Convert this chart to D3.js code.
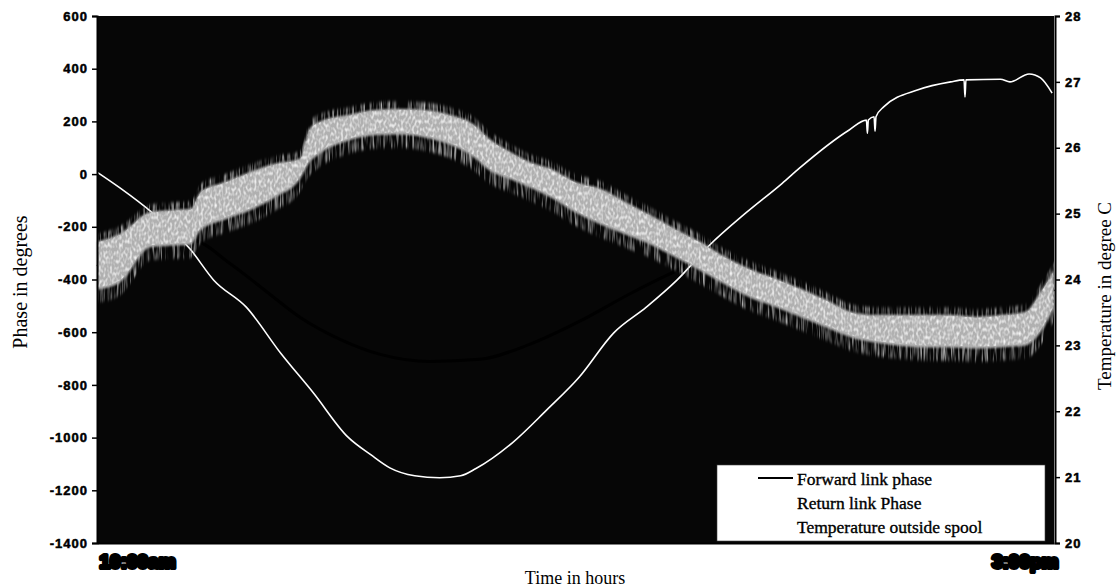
<!DOCTYPE html>
<html>
<head>
<meta charset="utf-8">
<script src="https://cdn.jsdelivr.net/npm/d3@7"></script>
<style>
  body { margin: 0; background: #fff; }
  svg { display: block; }
</style>
</head>
<body>
<div id="chart"></div>
<script>
// elapsed time in hours, from start of record
const timeTicks = [0, 5];
const timeLabels = ['10:00am', '3:00pm'];
const phaseTicks = [600, 400, 200, 0, -200, -400, -600, -800, -1000, -1200, -1400];
const tempTicks = [28, 27, 26, 25, 24, 23, 22, 21, 20];

// Temperature outside spool (deg C)
const tempTime = [0, 0.12, 0.29, 0.49, 0.61, 0.78, 0.96, 1.13, 1.31, 1.43, 1.53, 1.66, 1.79, 1.90, 1.98,
  2.17, 2.35, 2.52, 2.70, 2.87, 3.03, 3.20, 3.39, 3.58, 3.67, 3.93, 4.02, 4.025, 4.03, 4.06, 4.065, 4.07,
  4.11, 4.29, 4.46, 4.53, 4.535, 4.54, 4.72, 4.77, 4.87, 4.93, 4.99];
const tempValue = [25.63, 25.39, 25.01, 24.45, 23.99, 23.58, 22.88, 22.28, 21.61, 21.34, 21.14, 21.02, 20.99, 21.02, 21.13,
  21.52, 22.02, 22.52, 23.19, 23.58, 23.99, 24.52, 25.01, 25.46, 25.69, 26.27, 26.42, 26.22, 26.42, 26.47, 26.25, 26.47,
  26.62, 26.88, 27.00, 27.03, 26.77, 27.03, 27.04, 27.00, 27.12, 27.06, 26.83];

// Return link phase, read as the upper and lower edge of the noisy trace (degrees)
const returnTime = [0, 0.12, 0.28, 0.41, 0.49, 0.54, 0.67, 0.80, 0.93, 1.06, 1.11, 1.16, 1.32, 1.45, 1.58, 1.71,
  1.84, 1.97, 2.05, 2.16, 2.26, 2.37, 2.50, 2.63, 2.76, 2.89, 3.02, 3.15, 3.28, 3.41, 3.55, 3.68, 3.81, 3.94,
  4.07, 4.20, 4.33, 4.46, 4.59, 4.72, 4.85, 4.93, 5.0];
const returnUpper = [-250, -220, -137, -129, -125, -61, -23, 15, 46, 65, 178, 205, 232, 250, 254, 250,
  232, 194, 140, 91, 53, 27, -23, -49, -99, -148, -201, -250, -307, -353, -391, -429, -471, -516,
  -528, -528, -528, -528, -535, -528, -516, -440, -357];
const returnLower = [-448, -421, -288, -281, -277, -224, -182, -148, -99, -30, 34, 65, 118, 137, 140, 129,
  102, 53, 4, -30, -61, -99, -156, -201, -239, -277, -326, -376, -429, -478, -516, -554, -592, -630,
  -650, -662, -668, -668, -672, -668, -660, -610, -516];

// Forward link phase (black trace, degrees)
const forwardTime = [0, 0.49, 0.70, 0.87, 1.06, 1.27, 1.48, 1.74, 2.00, 2.26, 2.52, 2.78, 2.99, 3.20, 3.55, 3.94, 4.33, 4.72, 5.0];
const forwardValue = [-350, -250, -342, -437, -543, -627, -684, -711, -703, -646, -559, -456, -380, -313, -453, -573, -598, -598, -437];

const margin = { top: 16, right: 63, bottom: 45, left: 97 };
const W = 1117, H = 588;
const width = W - margin.left - margin.right;
const height = H - margin.top - margin.bottom;
const serif = '"Liberation Serif", "Times New Roman", serif';

const svg = d3.select('#chart').append('svg').attr('width', W).attr('height', H);

// texture filters for the noisy trace
const defs = svg.append('defs');
defs.append('filter').attr('id', 'soft')
  .append('feGaussianBlur').attr('stdDeviation', 1.2);

const streak = defs.append('filter').attr('id', 'streak')
  .attr('x', 0).attr('y', '-30%').attr('width', '100%').attr('height', '160%');
streak.append('feTurbulence').attr('type', 'fractalNoise')
  .attr('baseFrequency', '0.45 0.04').attr('numOctaves', 2).attr('seed', 7).attr('result', 'n');
streak.append('feColorMatrix').attr('in', 'n').attr('type', 'matrix')
  .attr('values', '0 0 0 0 0.58  0 0 0 0 0.58  0 0 0 0 0.58  2.2 0 0 0 -0.95').attr('result', 'm');
streak.append('feComposite').attr('in', 'm').attr('in2', 'SourceGraphic').attr('operator', 'in').attr('result', 'c');
streak.append('feGaussianBlur').attr('in', 'c').attr('stdDeviation', '0.6 1.5');

const speckle = defs.append('filter').attr('id', 'speckle');
speckle.append('feTurbulence').attr('type', 'fractalNoise')
  .attr('baseFrequency', '0.45 0.25').attr('numOctaves', 1).attr('seed', 2).attr('result', 'n');
speckle.append('feColorMatrix').attr('in', 'n').attr('type', 'matrix')
  .attr('values', '0 0 0 0 0.93  0 0 0 0 0.93  0 0 0 0 0.93  2.4 0 0 0 -1.0').attr('result', 'm');
speckle.append('feComposite').attr('in', 'm').attr('in2', 'SourceGraphic').attr('operator', 'in');

const g = svg.append('g').attr('transform', `translate(${margin.left},${margin.top})`);

const x = d3.scaleLinear().domain([0, 5]).range([0, width]);
const yPhase = d3.scaleLinear().domain([-1400, 600]).range([height, 0]);
const yTemp = d3.scaleLinear().domain([20, 28]).range([height, 0]);

// plot background
g.append('rect').attr('width', width).attr('height', height).attr('fill', '#060606');

// forward link phase
const fwd = forwardTime.map((t, i) => ({ t, v: forwardValue[i] }));
g.append('path').datum(fwd)
  .attr('fill', 'none').attr('stroke', '#000').attr('stroke-width', 3)
  .attr('d', d3.line().x(d => x(d.t)).y(d => yPhase(d.v)).curve(d3.curveMonotoneX));

// temperature (drawn under the return trace)
const temp = tempTime.map((t, i) => ({ t, v: tempValue[i] }));
g.append('path').datum(temp)
  .attr('fill', 'none').attr('stroke', '#fff').attr('stroke-width', 1.6)
  .attr('d', d3.line().x(d => x(d.t)).y(d => yTemp(d.v)).curve(d3.curveMonotoneX));

// return link phase band
const ret = returnTime.map((t, i) => ({ t, hi: returnUpper[i], lo: returnLower[i] }));
const band = (dLo, dHi) => d3.area().x(d => x(d.t))
  .y0(d => yPhase(d.lo + dLo)).y1(d => yPhase(d.hi + dHi)).curve(d3.curveMonotoneX);

g.append('path').datum(ret).attr('fill', '#fff').attr('filter', 'url(#streak)')
  .attr('d', band(-40, 22));
g.append('path').datum(ret).attr('fill', '#b0b0b0').attr('filter', 'url(#soft)')
  .attr('d', band(10, -6));
g.append('path').datum(ret).attr('fill', '#fff').attr('filter', 'url(#speckle)')
  .attr('d', band(18, -10));

// axes
const leftAxis = g.append('g')
  .call(d3.axisLeft(yPhase).tickValues(phaseTicks).tickSize(5).tickPadding(4).tickFormat(d => String(d)));
const rightAxis = g.append('g').attr('transform', `translate(${width + 1},0)`)
  .call(d3.axisRight(yTemp).tickValues(tempTicks).tickSize(5).tickPadding(5).tickFormat(d => String(d)));
const bottomAxis = g.append('g').attr('transform', `translate(0,${height})`)
  .call(d3.axisBottom(x).tickValues(timeTicks).tickSize(0).tickPadding(12)
    .tickFormat((d, i) => timeLabels[i]));

[leftAxis, rightAxis, bottomAxis].forEach(a => {
  a.select('.domain').attr('stroke', '#000').attr('stroke-width', 2);
  a.selectAll('.tick line').attr('stroke', '#000').attr('stroke-width', 1.5);
});
[leftAxis, rightAxis].forEach(a => {
  a.selectAll('.tick text')
    .attr('font-family', '"Liberation Sans", Arial, sans-serif')
    .attr('font-size', 13).attr('font-weight', 'bold')
    .attr('letter-spacing', 1)
    .attr('stroke', '#000').attr('stroke-width', 0.5);
});
bottomAxis.selectAll('.tick text')
  .attr('text-anchor', (d, i) => (i === 0 ? 'start' : 'end'))
  .attr('dx', (d, i) => (i === 0 ? 2 : 4))
  .attr('font-family', '"Liberation Sans", Arial, sans-serif')
  .attr('font-size', 19).attr('font-weight', 'bold')
  .attr('stroke', '#000').attr('stroke-width', 4).attr('stroke-linejoin', 'round');

// titles
svg.append('text')
  .attr('transform', 'translate(27,282) rotate(-90)')
  .attr('text-anchor', 'middle')
  .attr('font-family', serif).attr('font-size', 20)
  .text('Phase in degrees');
svg.append('text')
  .attr('transform', 'translate(1111,296) rotate(-90)')
  .attr('text-anchor', 'middle')
  .attr('font-family', serif).attr('font-size', 19)
  .text('Temperature in degree C');
svg.append('text')
  .attr('x', 575).attr('y', 584)
  .attr('text-anchor', 'middle')
  .attr('font-family', serif).attr('font-size', 18)
  .text('Time in hours');

// legend
const legendItems = [
  { name: 'Forward link phase', color: '#000' },
  { name: 'Return link Phase', color: '#fff' },
  { name: 'Temperature outside spool', color: '#fff' },
];
const legend = svg.append('g').attr('transform', 'translate(717,465)');
legend.append('rect').attr('width', 328).attr('height', 76)
  .attr('fill', '#fff').attr('stroke', '#444').attr('stroke-width', 0.6);
legendItems.forEach((item, i) => {
  const row = legend.append('g').attr('transform', `translate(0,${20 + i * 24})`);
  row.append('line').attr('x1', 41).attr('x2', 76).attr('y1', -7).attr('y2', -7)
    .attr('stroke', item.color).attr('stroke-width', 1.8);
  row.append('text').attr('x', 80).attr('y', 0)
    .attr('font-family', serif)
    .attr('font-size', 17.5)
    .attr('stroke', '#000').attr('stroke-width', 0.35)
    .text(item.name);
});
</script>
</body>
</html>
